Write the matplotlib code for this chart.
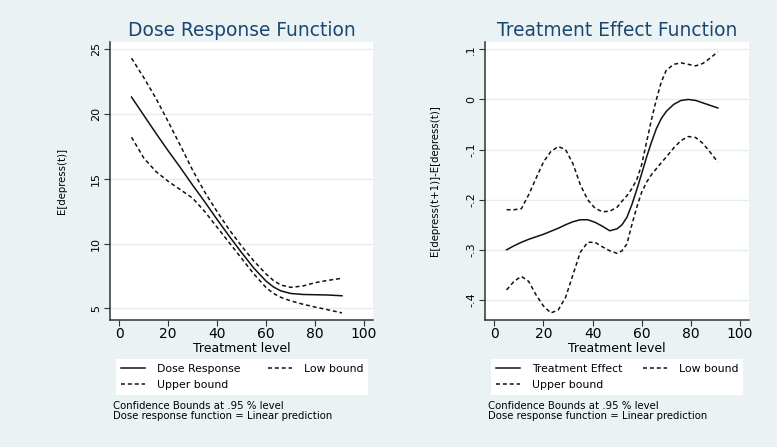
import matplotlib
matplotlib.use("Agg")
import matplotlib.pyplot as plt

# ---- dose response function (left panel) ----
dose_x = [5, 10, 15, 20, 25, 30, 35, 40, 45, 50, 55, 60, 63, 66, 70, 75, 80, 85, 91]
dose_resp = [21.3, 19.9, 18.5, 17.15, 15.85, 14.5, 13.2, 11.85, 10.55, 9.3, 8.1, 7.1,
             6.65, 6.35, 6.15, 6.07, 6.05, 6.03, 5.97]
dose_upper = [24.3, 22.8, 21.2, 19.4, 17.55, 15.65, 13.95, 12.45, 11.05, 9.8, 8.65, 7.65,
              7.15, 6.8, 6.62, 6.72, 6.98, 7.15, 7.32]
dose_lower = [18.2, 16.6, 15.55, 14.8, 14.15, 13.5, 12.45, 11.25, 10.05, 8.85, 7.65, 6.6,
              6.15, 5.85, 5.58, 5.32, 5.1, 4.9, 4.65]

# ---- treatment effect function (right panel) ----
effect_x = [5, 8, 11, 14, 17, 20, 23, 26, 29, 32, 35, 38, 41, 44, 47, 50, 52, 54, 56, 58,
            60, 62, 64, 66, 68, 70, 73, 76, 79, 82, 85, 88, 91]
effect = [-0.300, -0.292, -0.285, -0.279, -0.274, -0.269, -0.263, -0.257, -0.250, -0.244,
          -0.240, -0.240, -0.245, -0.253, -0.262, -0.258, -0.250, -0.235, -0.210, -0.180,
          -0.148, -0.115, -0.085, -0.058, -0.038, -0.024, -0.010, -0.002, 0.000, -0.002,
          -0.007, -0.012, -0.017]
effect_upper = [-0.220, -0.220, -0.218, -0.190, -0.157, -0.125, -0.104, -0.094, -0.100,
                -0.128, -0.170, -0.200, -0.217, -0.224, -0.223, -0.215, -0.203, -0.192,
                -0.178, -0.160, -0.130, -0.085, -0.040, 0.000, 0.035, 0.058, 0.070, 0.073,
                0.070, 0.067, 0.072, 0.083, 0.095]
effect_lower = [-0.380, -0.363, -0.353, -0.363, -0.390, -0.412, -0.426, -0.420, -0.395,
                -0.350, -0.305, -0.285, -0.285, -0.294, -0.302, -0.307, -0.302, -0.288,
                -0.250, -0.215, -0.185, -0.165, -0.150, -0.138, -0.126, -0.115, -0.097,
                -0.082, -0.074, -0.076, -0.088, -0.106, -0.125]

x_ticks = [0, 20, 40, 60, 80, 100]
dose_yticks = [5, 10, 15, 20, 25]
effect_yticks = [-0.4, -0.3, -0.2, -0.1, 0, 0.1]
effect_ytick_labels = ["-.4", "-.3", "-.2", "-.1", "0", ".1"]

notes = "Confidence Bounds at .95 % level\nDose response function = Linear prediction"

BG = "#eaf2f3"
NAVY = "#1a476f"
GRID = "#e3edf0"
AXC = "#333333"
DASH = (0, (2.6, 1.9))

plt.rcParams["font.family"] = "DejaVu Sans"

W, H = 777, 447
fig = plt.figure(figsize=(W / 100, H / 100), dpi=100, facecolor=BG)


def px_axes(x0, y0, x1, y1):
    return fig.add_axes([x0 / W, 1 - y1 / H, (x1 - x0) / W, (y1 - y0) / H])


def panel(box, title, x, mid, upper, lower, mid_label, yticks, ylabels, ylim, ylabel,
          ylabel_x, legend_box, note_x):
    x0, y0, x1, y1 = box
    ax = px_axes(x0, y0, x1, y1)
    ax.set_facecolor("white")

    l_mid, = ax.plot(x, mid, color="#111111", lw=1.1)
    l_up, = ax.plot(x, upper, color="#111111", lw=1.1, ls=DASH)
    l_lo, = ax.plot(x, lower, color="#111111", lw=1.1, ls=DASH)

    ax.set_xlim(-3.8, 103.7)
    ax.set_ylim(*ylim)
    ax.set_xticks(x_ticks)
    ax.set_yticks(yticks)
    ax.set_yticklabels(ylabels)
    ax.yaxis.grid(True, color=GRID, lw=1.0)
    ax.set_axisbelow(True)

    for s in ["top", "right"]:
        ax.spines[s].set_visible(False)
    for s in ["left", "bottom"]:
        ax.spines[s].set_color(AXC)
        ax.spines[s].set_linewidth(1.1)

    ax.tick_params(axis="x", length=4.3, width=0.8, color=AXC, labelsize=10, pad=1)
    ax.tick_params(axis="y", length=4.5, width=0.8, color=AXC, labelsize=8,
                   labelrotation=90, pad=2)
    for lbl in ax.get_yticklabels():
        lbl.set_va("center")

    ax.set_xlabel("Treatment level", fontsize=9, va="center")
    ax.xaxis.set_label_coords(0.5, -(349 - y1) / (y1 - y0))
    ax.set_ylabel(ylabel, fontsize=7.3, va="center")
    ax.yaxis.set_label_coords((ylabel_x - x0) / (x1 - x0), 0.5)

    fig.text((x0 + x1) / 2 / W, 1 - 31 / H, title, color=NAVY, fontsize=13.4,
             ha="center", va="center")

    lx0, ly0, lx1 = legend_box
    leg = fig.legend([l_mid, l_up, l_lo], [mid_label, "Upper bound", "Low bound"],
                     ncol=2, loc="upper left", mode="expand",
                     bbox_to_anchor=(lx0 / W, 1 - ly0 / H, (lx1 - lx0) / W, 0),
                     fontsize=7.8, frameon=True, fancybox=False, framealpha=1,
                     facecolor="white", edgecolor="white", borderpad=0.45,
                     handlelength=2.2, handletextpad=1.1, labelspacing=0.55,
                     borderaxespad=0)
    leg.get_frame().set_linewidth(0)

    fig.text(note_x / W, 1 - 401 / H, notes, fontsize=7.3, ha="left", va="top",
             linespacing=1.0)
    return ax


panel((110, 42, 373, 320), "Dose Response Function", dose_x, dose_resp, dose_upper,
      dose_lower, "Dose Response", dose_yticks, [str(v) for v in dose_yticks],
      (4.1, 25.55), "E[depress(t)]", 62, (116, 359, 368), 113)

panel((485, 42, 749, 320), "Treatment Effect Function", effect_x, effect, effect_upper,
      effect_lower, "Treatment Effect", effect_yticks, effect_ytick_labels,
      (-0.44, 0.1146), "E[depress(t+1)]-E[depress(t)]", 435, (491, 359, 743), 488)

fig.savefig("out.png", dpi=100, facecolor=BG)
